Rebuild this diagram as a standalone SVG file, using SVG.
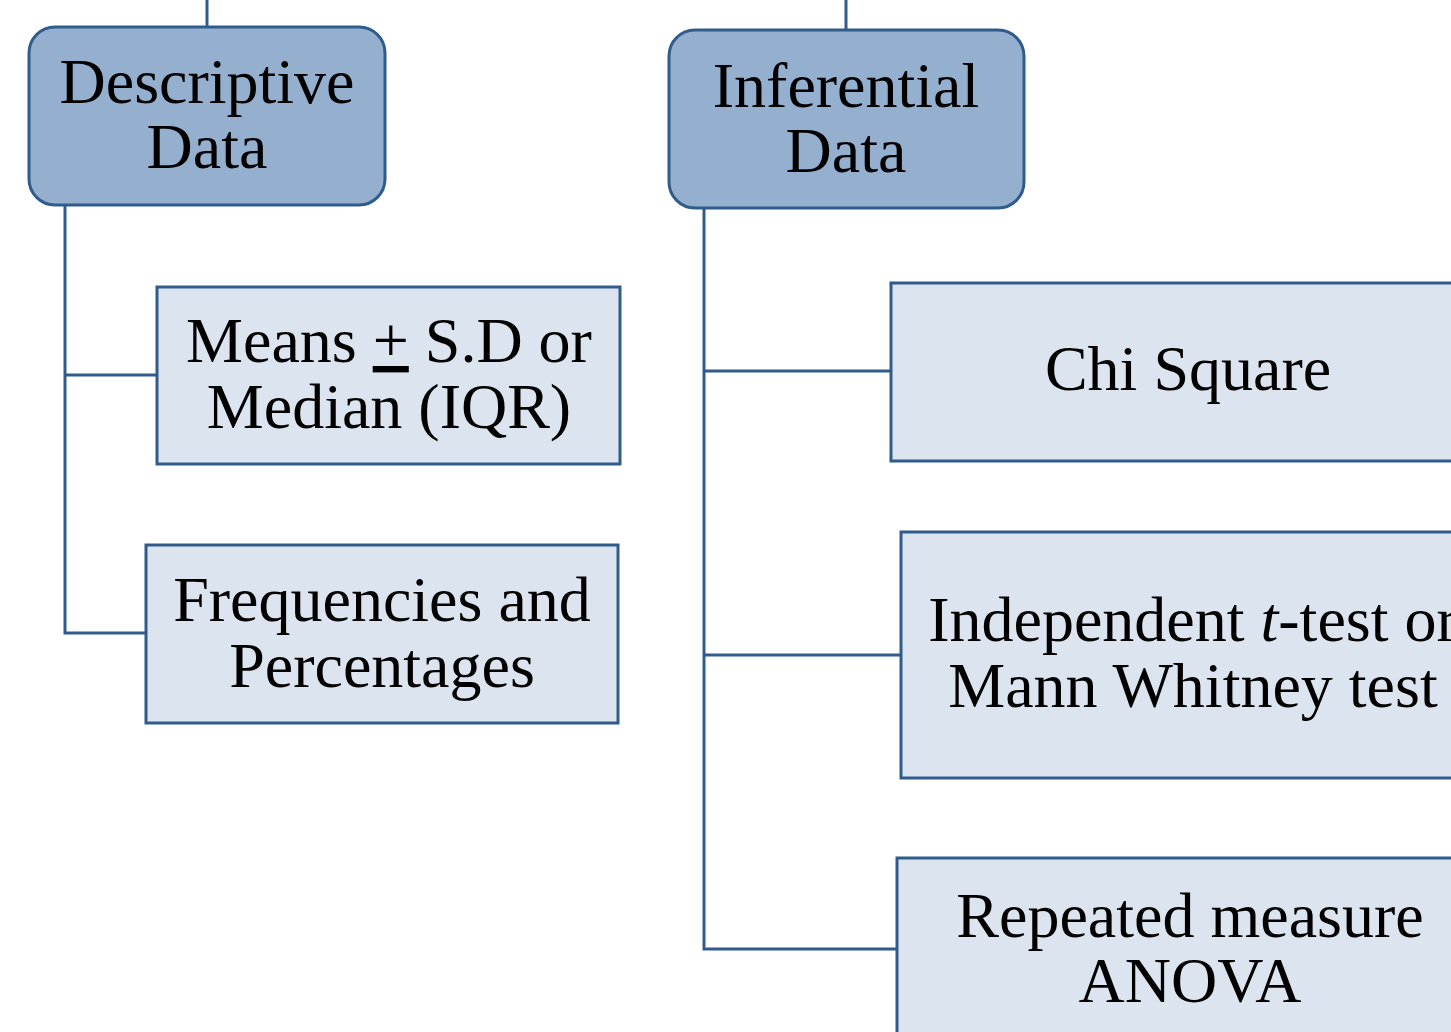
<svg xmlns="http://www.w3.org/2000/svg" width="1451" height="1032" viewBox="0 0 1451 1032">
<style>
.conn{stroke:#305C8C;stroke-width:3;fill:none}
.head{fill:#95AFCF;stroke:#305C8C;stroke-width:3}
.leaf{fill:#DCE4EF;stroke:#305C8C;stroke-width:3}
.t{font-family:"Liberation Serif","Times New Roman",serif;font-size:64px;fill:#000;text-anchor:middle}
</style>
<rect width="1451" height="1032" fill="#fff"/>
<g id="connectors">
<line class="conn" x1="207" y1="0" x2="207" y2="27"/>
<line class="conn" x1="846" y1="0" x2="846" y2="30"/>
<polyline class="conn" points="65,205 65,633 146,633"/>
<line class="conn" x1="65" y1="375" x2="157" y2="375"/>
<polyline class="conn" points="704,208 704,949 897,949"/>
<line class="conn" x1="704" y1="371" x2="891" y2="371"/>
<line class="conn" x1="704" y1="655" x2="901" y2="655"/>
</g>
<g id="descriptive">
<rect class="head" x="29" y="27" width="356" height="178" rx="26"/>
<text class="t" x="207" y="103">Descriptive</text>
<text class="t" x="207" y="168">Data</text>
</g>
<g id="inferential">
<rect class="head" x="669" y="30" width="355" height="178" rx="26"/>
<text class="t" x="846" y="107">Inferential</text>
<text class="t" x="846" y="172">Data</text>
</g>
<g id="means">
<rect class="leaf" x="157" y="287" width="463" height="177"/>
<text class="t" x="389" y="362">Means <tspan text-decoration="underline">+</tspan> S.D or</text>
<text class="t" x="389" y="428">Median (IQR)</text>
</g>
<g id="frequencies">
<rect class="leaf" x="146" y="545" width="472" height="178"/>
<text class="t" x="382" y="621">Frequencies and</text>
<text class="t" x="382" y="687">Percentages</text>
</g>
<g id="chi">
<rect class="leaf" x="891" y="283" width="580" height="178"/>
<text class="t" x="1188" y="390">Chi Square</text>
</g>
<g id="independent">
<rect class="leaf" x="901" y="532" width="580" height="246"/>
<text class="t" x="1193" y="641">Independent <tspan font-style="italic">t</tspan>-test or</text>
<text class="t" x="1193" y="707">Mann Whitney test</text>
</g>
<g id="repeated">
<rect class="leaf" x="897" y="858" width="580" height="200"/>
<text class="t" x="1190" y="937">Repeated measure</text>
<text class="t" x="1190" y="1002">ANOVA</text>
</g>
</svg>
